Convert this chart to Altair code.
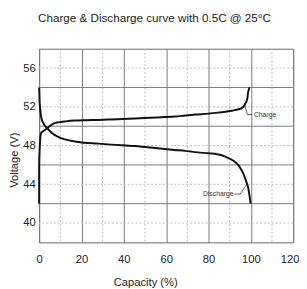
import altair as alt
import pandas as pd

charge_cap = [0, 0, 0.3, 0.9, 2, 3.8, 7, 9, 12.5, 17, 22, 28, 34, 45, 55, 64, 69, 74, 80, 84.3, 88, 91, 93, 95, 96.5, 97.3, 98.3, 98.8, 99.1, 99.3]
charge_v = [42, 46, 47.9, 49.3, 49.5, 49.8, 50.3, 50.4, 50.5, 50.58, 50.62, 50.65, 50.7, 50.8, 50.9, 51.0, 51.1, 51.2, 51.3, 51.4, 51.5, 51.6, 51.7, 51.8, 52.0, 52.3, 52.8, 53.6, 53.8, 54.0]

dis_cap = [0, 0.2, 0.5, 1, 2, 3.8, 6, 10, 15, 21, 28, 34, 45, 55, 64, 69, 75, 80, 84.2, 88, 92, 94, 95.5, 96.5, 97.5, 98.3, 98.8, 99.4, 99.9]
dis_v = [54, 52.6, 51.8, 50.9, 50.3, 49.8, 49.3, 48.8, 48.5, 48.3, 48.2, 48.1, 47.95, 47.75, 47.55, 47.45, 47.3, 47.2, 47.1, 46.85, 46.4, 46.0, 45.5, 45.1, 44.5, 44.0, 43.6, 42.8, 42.0]

x_major = [0, 20, 40, 60, 80, 100, 120]
x_minor = [10, 30, 50, 70, 90, 110]
y_labels = [40, 44, 48, 52, 56]
y_solid = [42, 46, 50, 54]

label_text = ["Charge", "Discharge"]
label_cap = [101, 92.3]
label_v = [51.15, 43.0]
label_align = ["left", "right"]

charge_leader_cap = [97.2, 98.4, 100.6]
charge_leader_v = [52.1, 51.2, 51.2]
dis_leader_cap = [92.3, 95.0, 98.0]
dis_leader_v = [43.0, 43.0, 44.0]

FONT = "Liberation Sans"

xs = alt.Scale(domain=[0, 120], nice=False)
ys = alt.Scale(domain=[38, 58], nice=False)

curves = pd.concat([
    pd.DataFrame({"cap": charge_cap, "v": charge_v, "series": "Charge", "i": range(len(charge_cap))}),
    pd.DataFrame({"cap": dis_cap, "v": dis_v, "series": "Discharge", "i": range(len(dis_cap))}),
])
leaders = pd.concat([
    pd.DataFrame({"cap": charge_leader_cap, "v": charge_leader_v, "series": "c", "i": range(3)}),
    pd.DataFrame({"cap": dis_leader_cap, "v": dis_leader_v, "series": "d", "i": range(3)}),
])

last_x = x_major[-1]

base_axes = alt.Chart(pd.DataFrame({"cap": [0], "v": [40]})).mark_point(opacity=0).encode(
    x=alt.X("cap:Q", scale=xs, title="Capacity (%)",
            axis=alt.Axis(values=x_major, grid=True, gridColor="#7a7a7a", gridWidth=1,
                          ticks=False, domain=False, labelFontSize=11.5, labelPadding=12,
                          labelFont=FONT, labelColor="#222", titleFont=FONT, titleFontSize=11.5,
                          titleFontWeight="normal", titleColor="#222", titlePadding=12,
                          labelFlush=False, titleX=109,
                          labelAlign=alt.condition(f"datum.value == {last_x}", alt.value("right"), alt.value("center")),
                          labelOffset=alt.condition(f"datum.value == {last_x}", alt.value(6), alt.value(0)))),
    y=alt.Y("v:Q", scale=ys, title="Voltage (V)",
            axis=alt.Axis(values=y_labels, grid=False, ticks=False, domain=False,
                          labelFontSize=11.5, labelPadding=4, labelFont=FONT, labelColor="#222",
                          titleFont=FONT, titleFontSize=11.5, titleFontWeight="normal",
                          titleColor="#222", titlePadding=3, titleY=114)),
)

minor_x = alt.Chart(pd.DataFrame({"g": x_minor})).mark_rule(color="#bbbbbb", strokeDash=[2, 2], strokeWidth=1).encode(
    x=alt.X("g:Q", scale=xs))
minor_y = alt.Chart(pd.DataFrame({"g": y_labels})).mark_rule(color="#bbbbbb", strokeDash=[2, 2], strokeWidth=1).encode(
    y=alt.Y("g:Q", scale=ys))
solid_y = alt.Chart(pd.DataFrame({"g": y_solid})).mark_rule(color="#7a7a7a", strokeWidth=1).encode(
    y=alt.Y("g:Q", scale=ys))

lines = alt.Chart(curves).mark_line(color="#111", strokeWidth=2, interpolate="monotone").encode(
    x=alt.X("cap:Q", scale=xs), y=alt.Y("v:Q", scale=ys), detail="series:N", order="i:Q")

lead = alt.Chart(leaders).mark_line(color="#333", strokeWidth=0.8).encode(
    x=alt.X("cap:Q", scale=xs), y=alt.Y("v:Q", scale=ys), detail="series:N", order="i:Q")

labels_df = pd.DataFrame({"t": label_text, "cap": label_cap, "v": label_v, "a": label_align})
lab_c = alt.Chart(labels_df[labels_df.a == "left"]).mark_text(
    align="left", baseline="middle", font=FONT, fontSize=7, color="#333", dx=1).encode(
    x=alt.X("cap:Q", scale=xs), y=alt.Y("v:Q", scale=ys), text="t:N")
lab_d = alt.Chart(labels_df[labels_df.a == "right"]).mark_text(
    align="right", baseline="middle", font=FONT, fontSize=7, color="#333", dx=-1).encode(
    x=alt.X("cap:Q", scale=xs), y=alt.Y("v:Q", scale=ys), text="t:N")

chart = alt.layer(base_axes, minor_x, minor_y, solid_y, lines, lead, lab_c, lab_d).properties(
    width=261, height=199,
    title=alt.TitleParams("Charge & Discharge curve with 0.5C @ 25°C", font=FONT, fontSize=12,
                          fontWeight="normal", color="#222", offset=24, anchor="middle", dx=-12),
    autosize=alt.AutoSizeParams(type="none"),
    padding={"left": 32, "top": 38, "right": 6, "bottom": 44},
).configure_view(stroke="#666", strokeWidth=1)

chart.save("out.html", embed_options={"renderer": "svg", "actions": False})
